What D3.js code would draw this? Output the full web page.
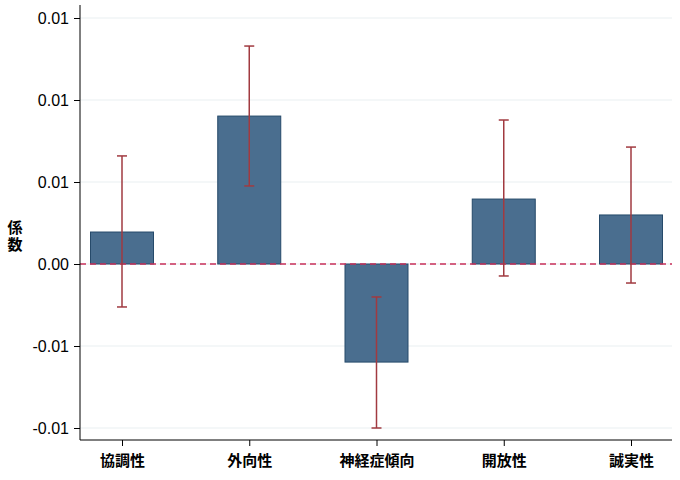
<!DOCTYPE html>
<html><head><meta charset="utf-8">
<script src="https://cdn.jsdelivr.net/npm/d3@7"></script>
<style>body{margin:0;background:#fff}text{font-family:"Liberation Sans","Noto Sans CJK JP",sans-serif}</style>
</head><body><svg id="chart" width="680" height="480"></svg>
<script>
// data
const categories = ["協調性", "外向性", "神経症傾向", "開放性", "誠実性"];
const coef = [0.00195, 0.00902, -0.00598, 0.00396, 0.00299];
const ciLow = [-0.00262, 0.00476, -0.0100, -0.00073, -0.00116];
const ciHigh = [0.00659, 0.01329, -0.00201, 0.00878, 0.00713];
const tickValues = [-0.01, -0.005, 0, 0.005, 0.01, 0.015];
const tickLabels = ["-0.01", "-0.01", "0.00", "0.01", "0.01", "0.01"];

const svg = d3.select("#chart");
const x = d3.scalePoint().domain(categories).range([122, 631]);
const y = d3.scaleLinear().domain([-0.01, 0.015]).range([428, 18]);
const barW = 63;

// grid
svg.selectAll(".grid").data(tickValues).enter().append("line")
    .attr("x1", 80).attr("x2", 672)
    .attr("y1", d => y(d)).attr("y2", d => y(d))
    .attr("stroke", "#eaf0f2").attr("stroke-width", 1.2);

// bars
svg.selectAll(".bar").data(coef).enter().append("rect")
    .attr("x", (d, i) => x(categories[i]) - barW / 2)
    .attr("width", barW)
    .attr("y", d => y(Math.max(0, d)))
    .attr("height", d => Math.abs(y(d) - y(0)))
    .attr("fill", "#4a6e8f").attr("stroke", "#264a6a").attr("stroke-width", 1);

// zero line
svg.append("line").attr("x1", 80).attr("x2", 672)
    .attr("y1", y(0)).attr("y2", y(0))
    .attr("stroke", "#c8305a").attr("stroke-width", 1.5).attr("stroke-dasharray", "6,4");

// error bars
const ec = "#a13a40";
categories.forEach((c, i) => {
    const cx = x(c);
    svg.append("line").attr("x1", cx).attr("x2", cx)
        .attr("y1", y(ciLow[i])).attr("y2", y(ciHigh[i])).attr("stroke", ec).attr("stroke-width", 1.5);
    [ciLow[i], ciHigh[i]].forEach(v => {
        svg.append("line").attr("x1", cx - 5).attr("x2", cx + 5)
            .attr("y1", y(v)).attr("y2", y(v)).attr("stroke", ec).attr("stroke-width", 1.5);
    });
});

// axes
const yAxis = d3.axisLeft(y).tickValues(tickValues)
    .tickFormat((d, i) => tickLabels[i]).tickSize(6);
const gy = svg.append("g").attr("transform", "translate(80,0)").call(yAxis);
gy.select(".domain").attr("d", "M0,5V440");
gy.selectAll("text").attr("font-size", 16).attr("fill", "#000").attr("dx", -2);

const xAxis = d3.axisBottom(x).tickSize(6);
const gx = svg.append("g").attr("transform", "translate(0,440)").call(xAxis);
gx.select(".domain").attr("d", "M80,0H672");
gx.selectAll("text").attr("font-size", 15).attr("font-weight", "bold").attr("fill", "#000").attr("dy", "1.1em");

// y label
["係", "数"].forEach((ch, i) => {
    svg.append("text").attr("x", 15).attr("y", 233 + i * 17)
        .attr("text-anchor", "middle").attr("font-size", 15).attr("font-weight", "bold").text(ch);
});
</script></body></html>
